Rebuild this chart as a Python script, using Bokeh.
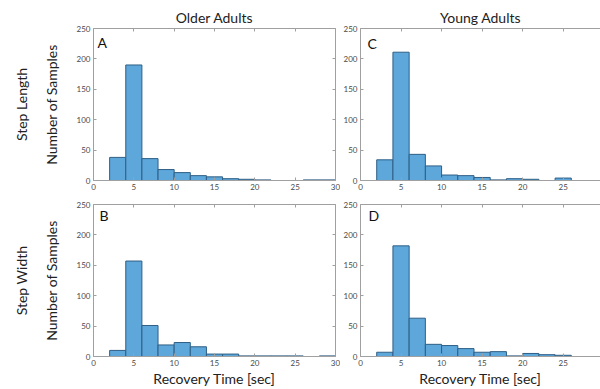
from bokeh.plotting import figure
from bokeh.layouts import row, column
from bokeh.models import LinearAxis, Label, Range1d
from bokeh.embed import file_html
from bokeh.resources import INLINE

# ---- data ----
bin_left = [2, 4, 6, 8, 10, 12, 14, 16, 18, 20, 22, 24, 26, 28]
bin_width = 2
older_step_length = [38, 190, 36, 18, 13, 8, 6, 3, 2, 1, 0, 0, 1, 1]
older_step_width = [10, 157, 51, 19, 23, 16, 4, 4, 1, 1, 1, 1, 0, 1]
young_step_length = [34, 211, 43, 24, 9, 8, 5, 1, 3, 2, 0, 4, 0, 0]
young_step_width = [7, 182, 63, 20, 18, 13, 7, 8, 1, 5, 3, 2, 0, 0]
x_ticks = [0, 5, 10, 15, 20, 25, 30]
y_ticks = [0, 50, 100, 150, 200, 250]
col_titles = ["Older Adults", "Young Adults"]
row_titles = ["Step Length", "Step Width"]
panel_letters = ["A", "B", "C", "D"]
y_label = "Number of Samples"
x_label = "Recovery Time [sec]"

FONT = "Lato"
AX = "#a0a0a0"
FILL = "#5DA7DB"
EDGE = "#2F5F85"


def style_axis(ax, labels=True, ticks=None):
    ax.axis_line_color = AX
    ax.major_tick_line_color = AX
    ax.major_tick_in = 3
    ax.major_tick_out = 0
    ax.minor_tick_line_color = None
    ax.major_label_text_font = FONT
    ax.major_label_text_color = "#4a4a4a"
    ax.major_label_text_font_size = "8px"
    if labels:
        ax.major_label_standoff = 3
    else:
        ax.major_label_standoff = 0
        ax.major_label_overrides = {t: "" for t in ticks}


def style_label(ax, text, standoff):
    ax.axis_label = text
    ax.axis_label_text_font = FONT
    ax.axis_label_text_font_size = "14px"
    ax.axis_label_text_font_style = "normal"
    ax.axis_label_text_color = "#222222"
    ax.axis_label_standoff = standoff


def make_panel(counts, letter, letter_xy, width, height, left, right, top, bottom,
               x_end, title=None, left_col=False, row_title=None, show_xlabel=False):
    p = figure(width=width, height=height, output_backend="svg", toolbar_location=None,
               x_range=Range1d(0, x_end), y_range=Range1d(0, 250),
               min_border_left=left, min_border_right=right,
               min_border_top=top, min_border_bottom=bottom)
    p.outline_line_color = None
    p.xgrid.grid_line_color = None
    p.ygrid.grid_line_color = None
    p.background_fill_color = "white"
    p.border_fill_color = "white"

    rights = [b + bin_width for b in bin_left]
    p.quad(left=bin_left, right=rights, bottom=0, top=counts,
           fill_color=FILL, line_color=EDGE, line_width=1)

    bottom_ax = p.below[0]
    left_ax = p.left[0]
    bottom_ax.ticker = x_ticks
    left_ax.ticker = y_ticks
    style_axis(bottom_ax)
    style_axis(left_ax)

    top_ax = LinearAxis(ticker=x_ticks)
    style_axis(top_ax, labels=False, ticks=x_ticks)
    p.add_layout(top_ax, "above")
    if left_col:
        r_ax = LinearAxis(ticker=y_ticks)
        style_axis(r_ax, labels=False, ticks=y_ticks)
        p.add_layout(r_ax, "right")

    if left_col:
        style_label(left_ax, y_label, 14)
        ra = LinearAxis(ticker=[])
        ra.axis_line_color = None
        ra.major_tick_line_color = None
        ra.minor_tick_line_color = None
        style_label(ra, row_title, 10)
        p.add_layout(ra, "left")

    if show_xlabel:
        style_label(bottom_ax, x_label, 1)

    if title:
        p.title.text = title
        p.title.align = "center"
        p.title.text_font = FONT
        p.title.text_font_size = "14px"
        p.title.text_font_style = "normal"
        p.title.text_color = "#222222"
        p.title.standoff = 6

    p.add_layout(Label(x=letter_xy[0], y=letter_xy[1], text=letter, text_font=FONT,
                       text_font_size="14px", text_color="#111111",
                       text_baseline="middle"))
    return p


pA = make_panel(older_step_length, panel_letters[0], (0.5, 227), 340, 195, 93, 5, 28, 15,
                30, title=col_titles[0], left_col=True, row_title=row_titles[0])
pB = make_panel(older_step_width, panel_letters[1], (0.75, 232), 340, 194, 93, 5, 9, 33,
                30, left_col=True, row_title=row_titles[1], show_xlabel=True)
pC = make_panel(young_step_length, panel_letters[2], (0.85, 226), 260, 195, 20, 0, 28, 15,
                29.6, title=col_titles[1])
pD = make_panel(young_step_width, panel_letters[3], (1.0, 232), 260, 194, 20, 0, 9, 33,
                29.6, show_xlabel=True)

layout = row(column(pA, pB), column(pC, pD))
open("out.html", "w").write(file_html(layout, INLINE))
